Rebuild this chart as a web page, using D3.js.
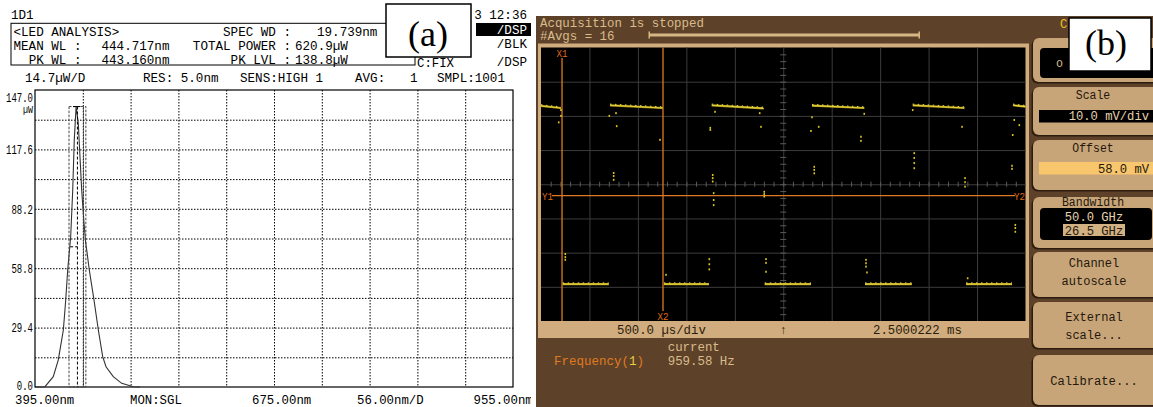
<!DOCTYPE html>
<html>
<head>
<meta charset="utf-8">
<script src="https://cdn.jsdelivr.net/npm/d3@7"></script>
<style>
  body { margin: 0; background: #fff; }
  svg { display: block; }
</style>
</head>
<body>
<svg id="chart" width="1153" height="407"></svg>
<script>
// ---------- (a) LED spectrum ----------
const specWl = [395, 403, 406.7, 416.4, 422.3, 428.2, 431.0, 433.3, 436.8, 439.2, 441.0, 443.16,
  445.7, 447.7, 449.7, 452.4, 454.4, 455.6, 458.6, 464.1, 469.2, 474.3, 478.2, 486.7, 496.6, 510.2, 518];
const specPw = [0, 0, 0.15, 5.1, 13.4, 28.2, 43.1, 57.9, 74.4, 97.5, 122.2, 138.8,
  130.7, 114.0, 97.5, 81.2, 71.3, 67.8, 57.9, 43.1, 28.2, 15.0, 10.0, 5.1, 1.8, 0.15, 0];
const pwTicks = [0, 29.4, 58.8, 88.2, 117.6, 147.0];
const pwGrid = [14.7, 29.4, 44.1, 58.8, 73.5, 88.2, 102.9, 117.6, 132.3];
const wlGrid = [451, 507, 563, 619, 675, 731, 787, 843, 899];
const wlLabels = ['395.00nm', 'MON:SGL', '675.00nm', '56.00nm/D', '955.00nm'];

const meanWl = 444.717, peakWl = 443.160, specWd = 19.739;
const totalPower = 620.9, peakLvl = 138.8;
const halfLvl = 69.4, halfLeftWl = 436.2, extraWl = 451.8;
const pkMarkWl = [439.7, 448.3];

// ---------- (b) oscilloscope trace ----------
const highOn  = [0, 0.712, 1.762, 2.797, 3.836, 4.871];
const highOff = [0.206, 1.256, 2.298, 3.336, 4.369, 5.0];
const highStartMv = [80.9, 81.1, 81.1, 81.0, 81.1, 81.1];
const highEndMv   = [80.3, 80.3, 80.2, 80.3, 80.3, 80.7];
const lowOn  = [0.224, 1.269, 2.309, 3.344, 4.386];
const lowOff = [0.699, 1.734, 2.786, 3.826, 4.861];
const lowMv = 28.8;
const dotT = [0.206, 0.206, 0.183, 0.705, 0.774, 0.781, 1.228, 0.750, 0.750, 0.750, 1.772, 1.772, 1.772,
  1.782, 1.782, 1.782, 1.747, 1.747, 1.796, 2.270, 2.257, 2.304, 2.304, 2.304, 2.820, 2.820, 2.820,
  2.866, 2.786, 2.797, 3.302, 3.302, 3.336, 3.852, 3.852, 3.852, 3.852, 3.836, 4.345, 4.376, 4.376, 4.376,
  4.861, 4.861, 4.868, 4.884, 4.936, 4.895, 4.895, 4.895, 0.251, 0.251, 0.251, 1.290, 1.737, 1.737, 1.737,
  2.322, 2.322, 2.322, 3.354, 3.354, 3.354, 3.364, 4.403];
const dotV = [79.7, 78.0, 76.1, 78.0, 78.8, 75.0, 71.0, 61.3, 60.4, 59.3, 60.7, 59.8, 58.8,
  55.4, 53.4, 51.9, 74.5, 73.9, 79.2, 74.8, 78.8, 55.8, 55.1, 54.4, 63.1, 62.2, 61.2,
  74.8, 73.6, 77.6, 71.9, 70.7, 78.6, 67.1, 65.7, 64.2, 62.7, 79.7, 74.8, 59.8, 58.6, 57.3,
  63.4, 62.5, 72.4, 76.8, 75.3, 46.1, 45.2, 44.1, 37.6, 36.7, 35.9, 31.5, 36.1, 34.6, 33.1,
  36.1, 35.0, 32.4, 35.9, 34.9, 33.9, 32.2, 30.5];
const tGrid = [0.5, 1, 1.5, 2, 2.5, 3, 3.5, 4, 4.5];
const vGrid = [28, 38, 48, 58, 68, 78, 88];
const cursorX = [0.217, 1.259];
const cursorY = 54.7;
const timeDiv = 500.0, centerTime = 2.5000222, voltDiv = 10.0, offsetMv = 58.0, freqHz = 959.58;

const svg = d3.select('#chart');
const mono = '"Liberation Mono", "DejaVu Sans Mono", monospace';
const serif = '"Liberation Serif", "DejaVu Serif", serif';

function label(g, s, x, yb, o = {}) {
  const t = g.append('text')
    .attr('x', x).attr('y', yb).text(s)
    .style('font-family', o.family || mono)
    .attr('font-size', o.size || 13.5)
    .attr('fill', o.fill || '#000')
    .attr('text-anchor', o.anchor || 'start');
  if (o.cw) t.attr('textLength', s.length * o.cw).attr('lengthAdjust', 'spacingAndGlyphs');
  return t;
}

// ===================== panel (a) =====================
svg.append('clipPath').attr('id', 'clipA')
  .append('rect').attr('x', 0).attr('y', 0).attr('width', 531).attr('height', 407);
const gA = svg.append('g').attr('clip-path', 'url(#clipA)');
const hc = { cw: 7.55 };

label(gA, '1D1', 11, 18.5, hc);
label(gA, '3 12:36', 527, 18.5, { ...hc, anchor: 'end' });

gA.append('rect').attr('x', 11).attr('y', 23.3).attr('width', 404).attr('height', 41.7)
  .attr('fill', 'none').attr('stroke', '#000').attr('stroke-width', 1);

label(gA, '<LED ANALYSIS>', 13.5, 35.5, hc);
label(gA, 'SPEC WD :', 291, 35.5, { ...hc, anchor: 'end' });
label(gA, `${specWd.toFixed(3)}nm`, 317, 35.5, hc);
label(gA, 'MEAN WL :', 13.5, 50, hc);
label(gA, `${meanWl.toFixed(3)}nm`, 101.5, 50, hc);
label(gA, 'TOTAL POWER :', 291, 50, { ...hc, anchor: 'end' });
label(gA, `${totalPower.toFixed(1)}\u00b5W`, 295, 50, hc);
label(gA, 'PK WL :', 81.5, 64, { ...hc, anchor: 'end' });
label(gA, `${peakWl.toFixed(3)}nm`, 101.5, 64, hc);
label(gA, 'PK LVL :', 291, 64, { ...hc, anchor: 'end' });
label(gA, `${peakLvl.toFixed(1)}\u00b5W`, 295, 64, hc);

gA.append('rect').attr('x', 476).attr('y', 23).attr('width', 56).attr('height', 13).attr('fill', '#000');
label(gA, '/DSP', 527, 34, { ...hc, anchor: 'end', fill: '#fff' });
label(gA, '/BLK', 527, 47.5, { ...hc, anchor: 'end' });
label(gA, '/DSP', 527, 65.5, { ...hc, anchor: 'end' });
label(gA, 'C:FIX', 417, 67, { size: 12.5, cw: 7.4 });

label(gA, '14.7\u00b5W/D', 25, 81.5, hc);
label(gA, 'RES: 5.0nm', 143, 81.5, hc);
label(gA, 'SENS:HIGH 1', 240, 81.5, hc);
label(gA, 'AVG:', 355, 81.5, hc);
label(gA, '1', 410, 81.5, hc);
label(gA, 'SMPL:1001', 437, 81.5, hc);

const x = d3.scaleLinear().domain([395, 955]).range([35, 513]);
const y = d3.scaleLinear().domain([0, 147]).range([387, 90]);

// grid
const gv = gA.append('g').attr('transform', 'translate(0,90)')
  .call(d3.axisTop(x).tickValues(wlGrid).tickSize(-297).tickFormat(''));
const gh = gA.append('g').attr('transform', 'translate(35,0)')
  .call(d3.axisLeft(y).tickValues(pwGrid).tickSize(-478).tickFormat(''));
[gv, gh].forEach(g => {
  g.select('.domain').remove();
  g.selectAll('line').attr('stroke', '#000').attr('stroke-width', 1).attr('stroke-dasharray', '1.5,1.5');
});

// y labels
const gy = gA.append('g').attr('transform', 'translate(35,0)')
  .call(d3.axisLeft(y).tickValues(pwTicks).tickSize(0).tickPadding(2).tickFormat(d3.format('.1f')));
gy.select('.domain').remove();
gy.selectAll('text')
  .style('font-family', mono)
  .attr('font-size', 12.5).attr('fill', '#000')
  .attr('textLength', d => d3.format('.1f')(d).length * 5.4)
  .attr('lengthAdjust', 'spacingAndGlyphs')
  .attr('dy', d => d === 147 ? '0.95em' : (d === 0 ? '0.2em' : '0.35em'));
label(gA, '\u00b5W', 33, 113, { anchor: 'end', size: 10, cw: 5 });

// frame
gA.append('rect').attr('x', 35).attr('y', 90).attr('width', 478).attr('height', 297)
  .attr('fill', 'none').attr('stroke', '#000').attr('stroke-width', 1.2);

// x labels
const xlPos = [15, 130, 252, 357, 473.5];
wlLabels.forEach((s, i) => label(gA, s, xlPos[i], 403.5, { size: 12.5, cw: 7.4 }));

// spectrum
const line = d3.line().x(d => x(d[0])).y(d => y(d[1]));
gA.append('path').datum(d3.zip(specWl, specPw)).attr('d', line)
  .attr('fill', 'none').attr('stroke', '#333').attr('stroke-width', 1.1);

// analysis markers
const boxL = meanWl - specWd / 2, boxR = meanWl + specWd / 2;
gA.append('rect').attr('x', x(boxL)).attr('y', y(peakLvl))
  .attr('width', x(boxR) - x(boxL)).attr('height', y(0) - y(peakLvl))
  .attr('fill', 'none').attr('stroke', '#444').attr('stroke-width', 1).attr('stroke-dasharray', '2.5,1.5');
gA.append('line').attr('x1', x(meanWl)).attr('x2', x(meanWl)).attr('y1', y(peakLvl)).attr('y2', y(0))
  .attr('stroke', '#000').attr('stroke-dasharray', '3,2');
gA.append('line').attr('x1', x(extraWl)).attr('x2', x(extraWl)).attr('y1', y(peakLvl)).attr('y2', y(0))
  .attr('stroke', '#444').attr('stroke-dasharray', '1.5,1.5');
gA.append('line').attr('x1', x(halfLeftWl)).attr('x2', x(meanWl)).attr('y1', y(halfLvl)).attr('y2', y(halfLvl))
  .attr('stroke', '#000').attr('stroke-dasharray', '3,2');
gA.append('line').attr('x1', x(pkMarkWl[0])).attr('x2', x(pkMarkWl[1])).attr('y1', y(peakLvl)).attr('y2', y(peakLvl))
  .attr('stroke', '#000').attr('stroke-width', 1);

// (a) tag
svg.append('rect').attr('x', 386).attr('y', 4).attr('width', 85).attr('height', 53)
  .attr('fill', '#fff').attr('stroke', '#000').attr('stroke-width', 1.5);
label(svg, '(a)', 428, 45.5, { anchor: 'middle', size: 36, family: serif });

// ===================== panel (b) =====================
const brown = '#5d4229', tanTxt = '#d9bb8c', btn = '#c8a579', orange = '#e07a22';
const gB = svg.append('g');
gB.append('rect').attr('x', 536).attr('y', 16).attr('width', 617).attr('height', 391).attr('fill', brown);

const sc = { size: 12, fill: tanTxt, cw: 7.45 };
label(gB, 'Acquisition is stopped', 540, 27, sc);
label(gB, '#Avgs = 16', 540, 39.5, sc);
gB.append('rect').attr('x', 649).attr('y', 33.5).attr('width', 270).attr('height', 3).attr('fill', '#d7b686');
[649, 919].forEach(px => gB.append('rect').attr('x', px - 0.5).attr('y', 31.5).attr('width', 1.5).attr('height', 7).attr('fill', '#d7b686'));

// screen frame + status strip
gB.append('rect').attr('x', 538).attr('y', 43.5).attr('width', 491).attr('height', 294.5).attr('fill', '#d0ac7e');
gB.append('rect').attr('x', 541).attr('y', 47.5).attr('width', 484.5).attr('height', 273.5).attr('fill', '#000');

const t = d3.scaleLinear().domain([0, 5]).range([541, 1025.5]);
const v = d3.scaleLinear().domain([18, 98]).range([321, 47.5]);

const gt = gB.append('g').attr('transform', 'translate(0,47.5)')
  .call(d3.axisTop(t).tickValues(tGrid).tickSize(-273.5).tickFormat(''));
const gvv = gB.append('g').attr('transform', 'translate(541,0)')
  .call(d3.axisLeft(v).tickValues(vGrid).tickSize(-484.5).tickFormat(''));
[gt, gvv].forEach(g => {
  g.select('.domain').remove();
  g.selectAll('line').attr('stroke', '#3c3c3c').attr('stroke-width', 1);
});
// centre axes minor ticks
const gmt = gB.append('g').attr('transform', `translate(0,${v(offsetMv) - 2.5})`)
  .call(d3.axisBottom(t).tickValues(d3.range(0.1, 5, 0.1)).tickSize(5).tickFormat(''));
const gmv = gB.append('g').attr('transform', `translate(${t(2.5) - 3},0)`)
  .call(d3.axisRight(v).tickValues(d3.range(20, 98, 2)).tickSize(6).tickFormat(''));
[gmt, gmv].forEach(g => {
  g.select('.domain').remove();
  g.selectAll('line').attr('stroke', '#5a5a5a').attr('stroke-width', 1);
});

// cursors
gB.append('line').attr('x1', t(cursorX[0])).attr('x2', t(cursorX[0])).attr('y1', 58).attr('y2', 321)
  .attr('stroke', orange).attr('stroke-width', 1.3);
gB.append('line').attr('x1', t(cursorX[1])).attr('x2', t(cursorX[1])).attr('y1', 47.5).attr('y2', 311)
  .attr('stroke', orange).attr('stroke-width', 1.3);
gB.append('line').attr('x1', 552).attr('x2', 1015).attr('y1', v(cursorY)).attr('y2', v(cursorY))
  .attr('stroke', orange).attr('stroke-width', 1.3);
const cl = { size: 11, fill: '#e06c18', cw: 5.5 };
label(gB, 'X1', t(cursorX[0]), 57, { ...cl, anchor: 'middle' });
label(gB, 'X2', t(cursorX[1]), 320, { ...cl, anchor: 'middle' });
label(gB, 'Y1', 542, 199.5, cl);
label(gB, 'Y2', 1025, 199.5, { ...cl, anchor: 'end' });

// trace
const segs = highOn.map((d, i) => [[d, highStartMv[i]], [highOff[i], highEndMv[i]]])
  .concat(lowOn.map((d, i) => [[d, lowMv], [lowOff[i], lowMv]]));
const tl = d3.line().x(d => t(d[0])).y(d => v(d[1]));
const gTr = gB.append('g');
segs.forEach(s => {
  gTr.append('path').attr('d', tl(s)).attr('stroke', '#a89418').attr('stroke-width', 2.2).attr('fill', 'none');
  gTr.append('path').attr('d', tl(s)).attr('stroke', '#e6d23a').attr('stroke-width', 1.1).attr('fill', 'none');
  gTr.append('path').attr('d', tl(s)).attr('transform', 'translate(0,-1.2)')
    .attr('stroke', '#f2e050').attr('stroke-width', 0.9).attr('stroke-dasharray', '1.5,3.5').attr('fill', 'none');
});
gTr.selectAll('rect.dot').data(d3.zip(dotT, dotV)).enter().append('rect')
  .attr('class', 'dot')
  .attr('x', d => t(d[0]) - 0.8).attr('y', d => v(d[1]) - 1)
  .attr('width', 1.6).attr('height', 2).attr('fill', '#d8c224');

// status strip
const st = { size: 12, fill: '#2a1c0c', cw: 7.4 };
label(gB, `${timeDiv.toFixed(1)} \u00b5s/div`, 617, 334, st);
label(gB, '\u2191', t(2.5), 334, { size: 12, fill: '#2a1c0c', anchor: 'middle' });
label(gB, `${centerTime.toFixed(7)} ms`, 873, 334, st);

// measurement
label(gB, 'current', 667.7, 351, sc);
const fq = gB.append('text').attr('x', 554).attr('y', 365).attr('font-size', 12)
  .style('font-family', mono)
  .attr('textLength', 90).attr('lengthAdjust', 'spacingAndGlyphs');
fq.append('tspan').attr('fill', orange).text('Frequency(');
fq.append('tspan').attr('fill', '#e8d040').text('1');
fq.append('tspan').attr('fill', orange).text(')');
label(gB, `${freqHz.toFixed(2)} Hz`, 667.7, 365, sc);

// softkey menu
const gM = gB.append('g');
const btnBox = [[38, 44], [87, 48], [140, 50], [197, 51], [252, 45], [302, 46], [355, 50]];
btnBox.forEach(([by, bh]) => {
  gM.append('rect').attr('x', 1031.5).attr('y', by + 1.5).attr('width', 130).attr('height', bh)
    .attr('rx', 6).attr('fill', '#2b1c0e');
  gM.append('rect').attr('x', 1033).attr('y', by).attr('width', 130).attr('height', bh)
    .attr('rx', 6).attr('fill', btn);
});
label(gM, 'C', 1060, 28, { size: 12, fill: '#f0c020', cw: 7.3 });
const bt = { size: 12, fill: '#24180b', anchor: 'middle', cw: 6.9 };
// 1: channel on
gM.append('rect').attr('x', 1040).attr('y', 48).attr('width', 120).attr('height', 30).attr('rx', 4).attr('fill', '#000');
label(gM, 'o', 1056, 67, { size: 12, fill: tanTxt, cw: 7 });
// 2: scale
label(gM, 'Scale', 1093, 99, bt);
gM.append('rect').attr('x', 1039).attr('y', 110).attr('width', 120).attr('height', 12.5).attr('fill', '#000');
label(gM, `${voltDiv.toFixed(1)} mV/div`, 1149, 120, { size: 12, fill: '#e6d2ae', anchor: 'end', cw: 7.3 });
// 3: offset
label(gM, 'Offset', 1093, 152, bt);
gM.append('rect').attr('x', 1039).attr('y', 162).attr('width', 120).attr('height', 12.5).attr('fill', '#f8c66c');
label(gM, `${offsetMv.toFixed(1)} mV`, 1149, 172.5, { size: 12, fill: '#24180b', anchor: 'end', cw: 7.3 });
// 4: bandwidth
label(gM, 'Bandwidth', 1093, 206, bt);
gM.append('rect').attr('x', 1040).attr('y', 208).attr('width', 112).attr('height', 32).attr('rx', 4).attr('fill', '#000');
label(gM, '50.0 GHz', 1094, 220.5, { size: 12, fill: '#e6d2ae', anchor: 'middle', cw: 7.3 });
gM.append('rect').attr('x', 1063).attr('y', 224).attr('width', 62).attr('height', 12).attr('fill', '#d2b183');
label(gM, '26.5 GHz', 1094, 234.5, { size: 12, fill: '#24180b', anchor: 'middle', cw: 7.3 });
// 5-7
label(gM, 'Channel', 1094, 267, { ...bt, cw: 7.2 });
label(gM, 'autoscale', 1094, 285, { ...bt, cw: 7.2 });
label(gM, 'External', 1094, 321, { ...bt, cw: 7.2 });
label(gM, 'scale...', 1094, 339, { ...bt, cw: 7.2 });
label(gM, 'Calibrate...', 1094, 385, { ...bt, cw: 7.3 });

// (b) tag
svg.append('rect').attr('x', 1069).attr('y', 18).attr('width', 82).attr('height', 53)
  .attr('fill', '#fff').attr('stroke', '#000').attr('stroke-width', 1.5);
label(svg, '(b)', 1106, 55, { anchor: 'middle', size: 36, family: serif });
</script>
</body>
</html>
